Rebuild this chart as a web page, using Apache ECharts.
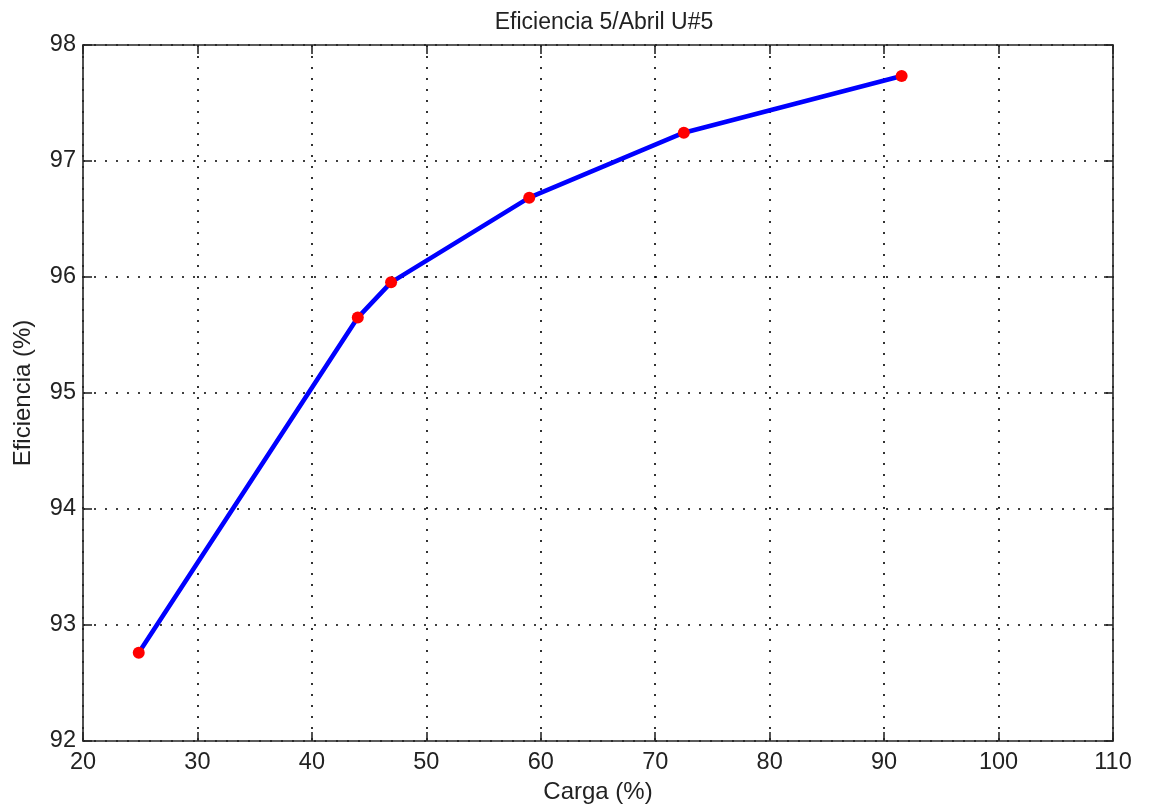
<!DOCTYPE html>
<html>
<head>
<meta charset="utf-8">
<script src="https://cdn.jsdelivr.net/npm/echarts@6/dist/echarts.min.js"></script>
<style>
  html, body { margin: 0; padding: 0; background: #fff; }
  #chart { width: 1149px; height: 805px; }
</style>
</head>
<body>
<div id="chart"></div>
<script>
// Load (%) and efficiency (%) measurements
const carga = [24.87, 44.01, 46.92, 58.99, 72.5, 91.53];
const eficiencia = [92.76, 95.65, 95.954, 96.684, 97.244, 97.733];

const titleText = 'Eficiencia 5/Abril U#5';
const xName = 'Carga (%)';
const yName = 'Eficiencia (%)';

const xMin = 20, xMax = 110, xStep = 10;
const yMin = 92, yMax = 98, yStep = 1;

const points = carga.map((c, i) => [c, eficiencia[i]]);

const font = 'Liberation Sans, Arial, sans-serif';
const axisLine = { show: true, lineStyle: { color: '#262626', width: 1.6 } };
const innerTick = { show: true, inside: true, length: 9, lineStyle: { color: '#262626', width: 1.6 } };
const dotted = { show: true, lineStyle: { color: '#000', width: 1.6, type: [2, 9] } };

const chart = echarts.init(document.getElementById('chart'), null, { renderer: 'canvas' });
chart.setOption({
  animation: false,
  backgroundColor: '#fff',
  title: {
    text: titleText,
    left: 599, top: 6, textAlign: 'center',
    textStyle: { fontFamily: font, fontSize: 23, fontWeight: 'normal', color: '#222' }
  },
  grid: { left: 83, right: 36, top: 45, bottom: 64, containLabel: false, outerBoundsMode: 'none' },
  xAxis: [
    {
      type: 'value', min: xMin, max: xMax, interval: xStep, position: 'bottom',
      name: xName, nameLocation: 'middle', nameGap: 39,
      nameTextStyle: { fontFamily: font, fontSize: 24, color: '#222' },
      axisLine, axisTick: innerTick,
      axisLabel: { fontFamily: font, fontSize: 23.5, color: '#222', margin: 10 },
      splitLine: dotted
    },
    {
      type: 'value', min: xMin, max: xMax, interval: xStep, position: 'top',
      axisLine, axisTick: innerTick, axisLabel: { show: false }, splitLine: { show: false }
    }
  ],
  yAxis: [
    {
      type: 'value', min: yMin, max: yMax, interval: yStep, position: 'left',
      name: yName, nameLocation: 'middle', nameGap: 48,
      nameTextStyle: { fontFamily: font, fontSize: 24, color: '#222' },
      axisLine, axisTick: innerTick,
      axisLabel: { fontFamily: font, fontSize: 23.5, color: '#222', margin: 7 },
      splitLine: dotted
    },
    {
      type: 'value', min: yMin, max: yMax, interval: yStep, position: 'right',
      axisLine, axisTick: innerTick, axisLabel: { show: false }, splitLine: { show: false }
    }
  ],
  series: [
    {
      type: 'line',
      data: points,
      xAxisIndex: 0, yAxisIndex: 0,
      lineStyle: { color: '#0000ff', width: 4.6 },
      symbol: 'circle', symbolSize: 12,
      itemStyle: { color: '#ff0000', borderWidth: 0 },
      z: 5
    }
  ]
});
</script>
</body>
</html>
